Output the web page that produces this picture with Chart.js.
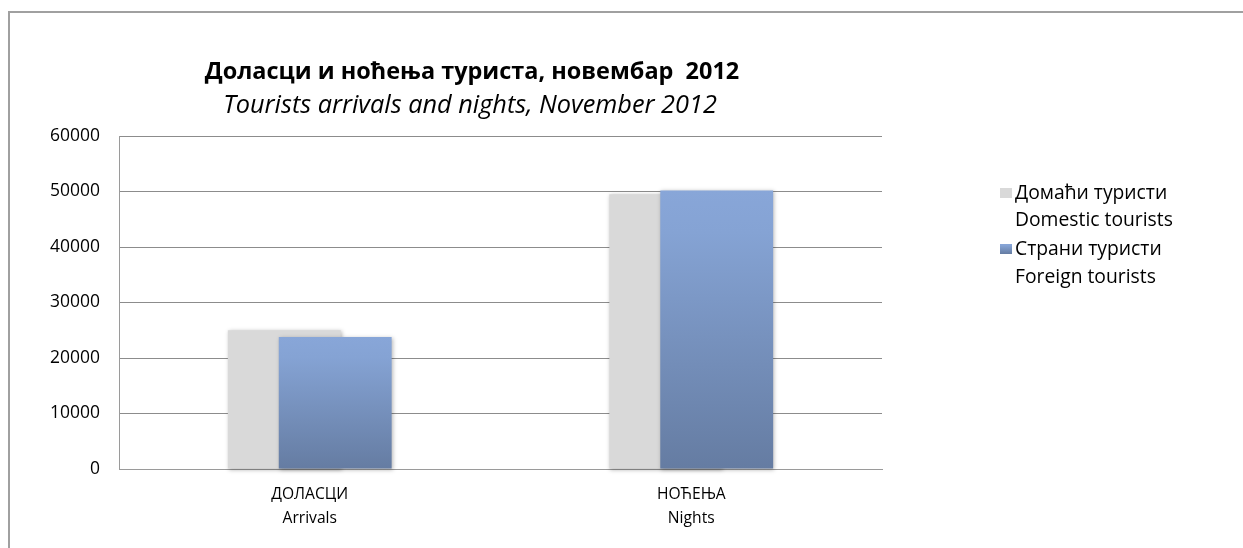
<!DOCTYPE html>
<html><head><meta charset="utf-8">
<script src="https://cdn.jsdelivr.net/npm/chart.js@4"></script>
<style>
html,body{margin:0;padding:0;background:#fff;overflow:hidden}
#wrap{position:relative;width:1243px;height:548px;overflow:hidden}
#frame{position:absolute;left:8px;top:11px;width:1300px;height:600px;border-left:2px solid #a0a0a0;border-top:2px solid #a0a0a0;box-sizing:border-box}
canvas{position:absolute;left:0;top:0}
</style></head><body>
<div id="wrap"><div id="frame"></div><canvas id="c" width="1243" height="548"></canvas></div>
<script>
// ---- data ----
const categories = [['ДОЛАСЦИ', 'Arrivals'], ['НОЋЕЊА', 'Nights']];
const seriesNames = [['Домаћи туристи', 'Domestic tourists'], ['Страни туристи', 'Foreign tourists']];
const domestic = [25000, 49500];
const foreign = [23800, 50200];
const yMin = 0, yMax = 60000, yStep = 10000;
const titleText = 'Доласци и ноћења туриста, новембар  2012';
const subtitleText = 'Tourists arrivals and nights, November 2012';

// ---- styling helpers ----
const FAM = '"Open Sans", "Noto Sans", sans-serif';
const mctx = document.createElement('canvas').getContext('2d');
function fit(text, target, weight, style) {
  mctx.font = `${style || 'normal'} ${weight || 'normal'} 100px ${FAM}`;
  return 100 * target / mctx.measureText(text).width;
}
const titleSize = fit(titleText, 535, 'bold');
const subSize = fit(subtitleText, 494, 'normal', 'italic');
const legendSize = fit('Domestic tourists', 158);
const tickSize = fit('60000', 50);
const catSize = fit('ДОЛАСЦИ', 77);

const GREY = '#D9D9D9';
function blueGrad(ctx, top, bot) {
  const g = ctx.createLinearGradient(0, top, 0, bot);
  g.addColorStop(0, '#88A6D8');
  g.addColorStop(0.15, '#85A3D4');
  g.addColorStop(1, '#657CA2');
  return g;
}

const forwardDraw = {
  id: 'forwardDraw',
  beforeDatasetsDraw(chart) {
    const ctx = chart.ctx;
    ctx.save();
    ctx.shadowColor = 'rgba(0,0,0,0.28)';
    ctx.shadowBlur = 4;
    ctx.shadowOffsetX = 1;
    ctx.shadowOffsetY = 1;
    chart.getSortedVisibleDatasetMetas().forEach(m => m.controller.draw());
    ctx.restore();
    return false;
  }
};

const texts = {
  id: 'texts',
  afterDraw(chart) {
    const ctx = chart.ctx;
    ctx.save();
    ctx.fillStyle = '#000';
    ctx.textAlign = 'center';
    ctx.textBaseline = 'middle';
    ctx.font = `bold ${titleSize}px ${FAM}`;
    ctx.fillText(titleText, 472, 72);
    ctx.font = `italic ${subSize}px ${FAM}`;
    ctx.fillText(subtitleText, 470, 106);
    // legend
    ctx.textAlign = 'left';
    ctx.font = `${legendSize}px ${FAM}`;
    const rows = [[193, 220], [249, 277]];
    seriesNames.forEach((names, i) => {
      const [y1, y2] = rows[i];
      ctx.fillStyle = i === 0 ? GREY : blueGrad(ctx, y1 - 5, y1 + 5);
      ctx.fillRect(1000, y1 - 5, 12, 10);
      ctx.fillStyle = '#000';
      ctx.fillText(names[0], 1015, y1);
      ctx.fillText(names[1], 1015, y2);
    });
    ctx.restore();
  }
};

new Chart(document.getElementById('c'), {
  type: 'bar',
  data: {
    labels: categories,
    datasets: [
      { label: seriesNames[0].join(' '), data: domestic, backgroundColor: GREY, borderWidth: 0 },
      {
        label: seriesNames[1].join(' '), data: foreign, borderWidth: 0,
        backgroundColor: (c) => {
          const chart = c.chart, ys = chart.scales.y;
          if (!ys || !chart.chartArea || c.raw === undefined) return '#7A96C6';
          return blueGrad(chart.ctx, ys.getPixelForValue(c.raw), ys.getPixelForValue(0));
        }
      }
    ]
  },
  options: {
    responsive: false,
    animation: false,
    events: [],
    layout: { padding: { top: 136, right: 361, bottom: 0, left: 0 } },
    datasets: { bar: { categoryPercentage: 0.267, barPercentage: 2.216 } },
    plugins: { legend: { display: false }, title: { display: false }, tooltip: { enabled: false } },
    scales: {
      x: {
        grid: { display: false, drawTicks: false },
        border: { display: true, color: '#9a9a9a', width: 1 },
        ticks: { color: '#000', padding: 13, font: { family: FAM, size: catSize, lineHeight: 1.55 } },
        afterFit(s) { s.height = 79; }
      },
      y: {
        min: yMin, max: yMax,
        grid: { color: '#8c8c8c', lineWidth: 1, drawTicks: false },
        border: { display: true, color: '#9a9a9a', width: 1 },
        ticks: { stepSize: yStep, color: '#000', padding: 19, font: { family: FAM, size: tickSize },
                 callback: (v) => String(v) },
        afterFit(s) { s.width = 119; }
      }
    }
  },
  plugins: [forwardDraw, texts]
});
</script>
</body></html>
